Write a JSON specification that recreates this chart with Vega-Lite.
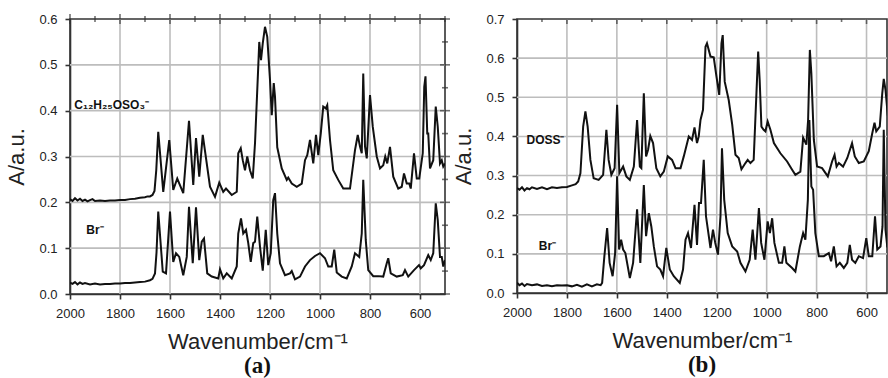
{
  "$schema": "https://vega.github.io/schema/vega-lite/v6.json",
  "padding": {"left": 5, "top": 12, "right": 0, "bottom": 0},
  "spacing": 1,
  "config": {
    "view": {"stroke": "#333", "strokeWidth": 1.6},
    "axis": {"labelFont": "Liberation Sans", "titleFont": "Liberation Sans", "labelFontSize": 13, "titleFontSize": 22, "titleFontWeight": "normal", "labelColor": "#222", "titleColor": "#222", "domain": true, "domainColor": "#333", "domainWidth": 1.6, "ticks": true, "tickColor": "#333", "tickWidth": 1.6, "grid": false, "labelPadding": 8, "tickSize": 5, "labelOverlap": false, "labelFlush": false}
  },
  "datasets": {
    "xt": [{"v":2000},{"v":1900},{"v":1800},{"v":1700},{"v":1600},{"v":1500},{"v":1400},{"v":1300},{"v":1200},{"v":1100},{"v":1000},{"v":900},{"v":800},{"v":700},{"v":600},{"v":500}],
    "gx": [{"v":1800},{"v":1600},{"v":1400},{"v":1200},{"v":1000},{"v":800},{"v":600}],
    "yta": [{"v":0},{"v":0.05},{"v":0.1},{"v":0.15},{"v":0.2},{"v":0.25},{"v":0.3},{"v":0.35},{"v":0.4},{"v":0.45},{"v":0.5},{"v":0.55},{"v":0.6}],
    "ytb": [{"v":0},{"v":0.05},{"v":0.1},{"v":0.15},{"v":0.2},{"v":0.25},{"v":0.3},{"v":0.35},{"v":0.4},{"v":0.45},{"v":0.5},{"v":0.55},{"v":0.6},{"v":0.65},{"v":0.7}],
    "gya": [{"v":0.1},{"v":0.2},{"v":0.3},{"v":0.4},{"v":0.5}],
    "gyb": [{"v":0.1},{"v":0.2},{"v":0.3},{"v":0.4},{"v":0.5},{"v":0.6}],
    "a": [
      {"s":"t","w":2000,"a":0.207},{"s":"t","w":1990,"a":0.203},{"s":"t","w":1980,"a":0.209},{"s":"t","w":1970,"a":0.204},{"s":"t","w":1960,"a":0.208},{"s":"t","w":1950,"a":0.203},{"s":"t","w":1940,"a":0.206},{"s":"t","w":1930,"a":0.202},{"s":"t","w":1920,"a":0.205},{"s":"t","w":1910,"a":0.207},{"s":"t","w":1900,"a":0.203},{"s":"t","w":1880,"a":0.204},{"s":"t","w":1860,"a":0.203},{"s":"t","w":1840,"a":0.204},{"s":"t","w":1820,"a":0.204},{"s":"t","w":1800,"a":0.205},{"s":"t","w":1780,"a":0.205},{"s":"t","w":1760,"a":0.207},{"s":"t","w":1740,"a":0.208},{"s":"t","w":1720,"a":0.21},{"s":"t","w":1700,"a":0.211},{"s":"t","w":1690,"a":0.213},{"s":"t","w":1680,"a":0.213},{"s":"t","w":1670,"a":0.216},{"s":"t","w":1662,"a":0.225},{"s":"t","w":1655,"a":0.27},
      {"s":"t","w":1647,"a":0.354},{"s":"t","w":1627,"a":0.223},{"s":"t","w":1603,"a":0.336},{"s":"t","w":1587,"a":0.227},{"s":"t","w":1571,"a":0.252},{"s":"t","w":1547,"a":0.22},{"s":"t","w":1524,"a":0.378},{"s":"t","w":1507,"a":0.238},{"s":"t","w":1496,"a":0.34},{"s":"t","w":1483,"a":0.256},{"s":"t","w":1469,"a":0.347},{"s":"t","w":1440,"a":0.234},{"s":"t","w":1420,"a":0.212},{"s":"t","w":1403,"a":0.243},{"s":"t","w":1387,"a":0.223},{"s":"t","w":1376,"a":0.23},{"s":"t","w":1353,"a":0.216},{"s":"t","w":1333,"a":0.223},{"s":"t","w":1327,"a":0.307},{"s":"t","w":1317,"a":0.318},{"s":"t","w":1309,"a":0.292},{"s":"t","w":1300,"a":0.27},{"s":"t","w":1291,"a":0.3},{"s":"t","w":1280,"a":0.27},{"s":"t","w":1269,"a":0.252},{"s":"t","w":1260,"a":0.329},{"s":"t","w":1247,"a":0.496},{"s":"t","w":1243,"a":0.55},{"s":"t","w":1236,"a":0.51},{"s":"t","w":1229,"a":0.547},{"s":"t","w":1220,"a":0.583},{"s":"t","w":1211,"a":0.561},{"s":"t","w":1200,"a":0.467},{"s":"t","w":1193,"a":0.39},{"s":"t","w":1185,"a":0.46},{"s":"t","w":1180,"a":0.43},{"s":"t","w":1171,"a":0.32},{"s":"t","w":1153,"a":0.274},{"s":"t","w":1133,"a":0.249},{"s":"t","w":1127,"a":0.254},{"s":"t","w":1113,"a":0.241},{"s":"t","w":1093,"a":0.234},{"s":"t","w":1073,"a":0.241},{"s":"t","w":1060,"a":0.292},{"s":"t","w":1051,"a":0.303},{"s":"t","w":1040,"a":0.336},{"s":"t","w":1027,"a":0.285},{"s":"t","w":1016,"a":0.347},{"s":"t","w":1007,"a":0.303},{"s":"t","w":997,"a":0.35},{"s":"t","w":987,"a":0.409},{"s":"t","w":977,"a":0.405},{"s":"t","w":971,"a":0.412},{"s":"t","w":960,"a":0.336},{"s":"t","w":947,"a":0.27},{"s":"t","w":927,"a":0.249},{"s":"t","w":907,"a":0.23},{"s":"t","w":880,"a":0.23},{"s":"t","w":860,"a":0.314},{"s":"t","w":849,"a":0.347},{"s":"t","w":840,"a":0.322},{"s":"t","w":833,"a":0.307},{"s":"t","w":827,"a":0.481},{"s":"t","w":820,"a":0.322},{"s":"t","w":813,"a":0.296},{"s":"t","w":800,"a":0.434},{"s":"t","w":789,"a":0.365},{"s":"t","w":773,"a":0.3},{"s":"t","w":760,"a":0.274},{"s":"t","w":747,"a":0.281},{"s":"t","w":739,"a":0.3},{"s":"t","w":731,"a":0.285},{"s":"t","w":720,"a":0.321},{"s":"t","w":707,"a":0.256},{"s":"t","w":687,"a":0.23},{"s":"t","w":673,"a":0.234},{"s":"t","w":664,"a":0.263},{"s":"t","w":653,"a":0.241},{"s":"t","w":643,"a":0.241},{"s":"t","w":637,"a":0.23},{"s":"t","w":624,"a":0.307},{"s":"t","w":613,"a":0.252},{"s":"t","w":603,"a":0.252},{"s":"t","w":589,"a":0.307},{"s":"t","w":583,"a":0.452},{"s":"t","w":578,"a":0.475},{"s":"t","w":571,"a":0.35},{"s":"t","w":567,"a":0.35},{"s":"t","w":560,"a":0.274},{"s":"t","w":547,"a":0.292},{"s":"t","w":537,"a":0.409},{"s":"t","w":529,"a":0.365},{"s":"t","w":520,"a":0.285},{"s":"t","w":513,"a":0.292},{"s":"t","w":507,"a":0.278},{"s":"t","w":500,"a":0.285},
      {"s":"b","w":2000,"a":0.025},{"s":"b","w":1990,"a":0.022},{"s":"b","w":1980,"a":0.026},{"s":"b","w":1970,"a":0.021},{"s":"b","w":1960,"a":0.025},{"s":"b","w":1950,"a":0.022},{"s":"b","w":1940,"a":0.024},{"s":"b","w":1920,"a":0.021},{"s":"b","w":1900,"a":0.023},{"s":"b","w":1880,"a":0.021},{"s":"b","w":1860,"a":0.022},{"s":"b","w":1840,"a":0.022},{"s":"b","w":1820,"a":0.023},{"s":"b","w":1800,"a":0.023},{"s":"b","w":1780,"a":0.024},{"s":"b","w":1760,"a":0.024},{"s":"b","w":1740,"a":0.025},{"s":"b","w":1720,"a":0.026},{"s":"b","w":1700,"a":0.027},{"s":"b","w":1680,"a":0.03},{"s":"b","w":1670,"a":0.033},{"s":"b","w":1660,"a":0.045},{"s":"b","w":1654,"a":0.09},
      {"s":"b","w":1647,"a":0.18},{"s":"b","w":1629,"a":0.049},{"s":"b","w":1616,"a":0.045},{"s":"b","w":1600,"a":0.18},{"s":"b","w":1587,"a":0.07},{"s":"b","w":1576,"a":0.089},{"s":"b","w":1563,"a":0.081},{"s":"b","w":1547,"a":0.041},{"s":"b","w":1533,"a":0.081},{"s":"b","w":1524,"a":0.19},{"s":"b","w":1509,"a":0.067},{"s":"b","w":1496,"a":0.189},{"s":"b","w":1483,"a":0.074},{"s":"b","w":1473,"a":0.114},{"s":"b","w":1464,"a":0.121},{"s":"b","w":1451,"a":0.045},{"s":"b","w":1433,"a":0.038},{"s":"b","w":1407,"a":0.034},{"s":"b","w":1400,"a":0.054},{"s":"b","w":1387,"a":0.034},{"s":"b","w":1373,"a":0.045},{"s":"b","w":1353,"a":0.034},{"s":"b","w":1333,"a":0.06},{"s":"b","w":1327,"a":0.132},{"s":"b","w":1316,"a":0.165},{"s":"b","w":1307,"a":0.132},{"s":"b","w":1296,"a":0.14},{"s":"b","w":1287,"a":0.111},{"s":"b","w":1277,"a":0.07},{"s":"b","w":1267,"a":0.111},{"s":"b","w":1260,"a":0.114},{"s":"b","w":1251,"a":0.169},{"s":"b","w":1240,"a":0.103},{"s":"b","w":1229,"a":0.051},{"s":"b","w":1217,"a":0.14},{"s":"b","w":1207,"a":0.063},{"s":"b","w":1197,"a":0.089},{"s":"b","w":1187,"a":0.205},{"s":"b","w":1180,"a":0.22},{"s":"b","w":1171,"a":0.132},{"s":"b","w":1160,"a":0.067},{"s":"b","w":1140,"a":0.041},{"s":"b","w":1120,"a":0.045},{"s":"b","w":1113,"a":0.05},{"s":"b","w":1100,"a":0.032},{"s":"b","w":1080,"a":0.038},{"s":"b","w":1060,"a":0.06},{"s":"b","w":1040,"a":0.074},{"s":"b","w":1020,"a":0.083},{"s":"b","w":1000,"a":0.089},{"s":"b","w":980,"a":0.078},{"s":"b","w":967,"a":0.06},{"s":"b","w":953,"a":0.06},{"s":"b","w":943,"a":0.097},{"s":"b","w":933,"a":0.047},{"s":"b","w":913,"a":0.038},{"s":"b","w":893,"a":0.034},{"s":"b","w":873,"a":0.06},{"s":"b","w":860,"a":0.089},{"s":"b","w":843,"a":0.081},{"s":"b","w":833,"a":0.132},{"s":"b","w":827,"a":0.249},{"s":"b","w":817,"a":0.118},{"s":"b","w":807,"a":0.052},{"s":"b","w":787,"a":0.039},{"s":"b","w":767,"a":0.039},{"s":"b","w":747,"a":0.038},{"s":"b","w":733,"a":0.067},{"s":"b","w":727,"a":0.078},{"s":"b","w":717,"a":0.045},{"s":"b","w":693,"a":0.038},{"s":"b","w":669,"a":0.041},{"s":"b","w":660,"a":0.052},{"s":"b","w":647,"a":0.038},{"s":"b","w":624,"a":0.052},{"s":"b","w":604,"a":0.063},{"s":"b","w":597,"a":0.056},{"s":"b","w":584,"a":0.063},{"s":"b","w":567,"a":0.085},{"s":"b","w":557,"a":0.074},{"s":"b","w":547,"a":0.089},{"s":"b","w":537,"a":0.198},{"s":"b","w":529,"a":0.161},{"s":"b","w":520,"a":0.081},{"s":"b","w":513,"a":0.081},{"s":"b","w":507,"a":0.06},{"s":"b","w":500,"a":0.074}
    ],
    "b": [
      {"s":"t","w":2000,"a":0.268},{"s":"t","w":1990,"a":0.264},{"s":"t","w":1980,"a":0.27},{"s":"t","w":1970,"a":0.262},{"s":"t","w":1960,"a":0.268},{"s":"t","w":1950,"a":0.265},{"s":"t","w":1940,"a":0.27},{"s":"t","w":1920,"a":0.266},{"s":"t","w":1900,"a":0.27},{"s":"t","w":1880,"a":0.265},{"s":"t","w":1860,"a":0.27},{"s":"t","w":1840,"a":0.268},{"s":"t","w":1820,"a":0.27},{"s":"t","w":1800,"a":0.271},{"s":"t","w":1780,"a":0.275},{"s":"t","w":1765,"a":0.278},{"s":"t","w":1755,"a":0.285},
      {"s":"t","w":1746,"a":0.306},{"s":"t","w":1735,"a":0.425},{"s":"t","w":1726,"a":0.464},{"s":"t","w":1717,"a":0.425},{"s":"t","w":1706,"a":0.34},{"s":"t","w":1693,"a":0.293},{"s":"t","w":1673,"a":0.289},{"s":"t","w":1655,"a":0.302},{"s":"t","w":1642,"a":0.417},{"s":"t","w":1633,"a":0.34},{"s":"t","w":1622,"a":0.302},{"s":"t","w":1609,"a":0.319},{"s":"t","w":1599,"a":0.481},{"s":"t","w":1590,"a":0.306},{"s":"t","w":1575,"a":0.323},{"s":"t","w":1562,"a":0.298},{"s":"t","w":1548,"a":0.289},{"s":"t","w":1532,"a":0.323},{"s":"t","w":1519,"a":0.442},{"s":"t","w":1508,"a":0.323},{"s":"t","w":1502,"a":0.319},{"s":"t","w":1492,"a":0.51},{"s":"t","w":1483,"a":0.349},{"s":"t","w":1475,"a":0.366},{"s":"t","w":1466,"a":0.401},{"s":"t","w":1455,"a":0.383},{"s":"t","w":1442,"a":0.319},{"s":"t","w":1426,"a":0.298},{"s":"t","w":1412,"a":0.31},{"s":"t","w":1396,"a":0.349},{"s":"t","w":1379,"a":0.34},{"s":"t","w":1365,"a":0.319},{"s":"t","w":1345,"a":0.319},{"s":"t","w":1332,"a":0.349},{"s":"t","w":1312,"a":0.4},{"s":"t","w":1299,"a":0.391},{"s":"t","w":1289,"a":0.423},{"s":"t","w":1279,"a":0.383},{"s":"t","w":1272,"a":0.4},{"s":"t","w":1265,"a":0.442},{"s":"t","w":1255,"a":0.468},{"s":"t","w":1245,"a":0.629},{"s":"t","w":1239,"a":0.638},{"s":"t","w":1225,"a":0.604},{"s":"t","w":1212,"a":0.602},{"s":"t","w":1201,"a":0.553},{"s":"t","w":1190,"a":0.506},{"s":"t","w":1181,"a":0.638},{"s":"t","w":1176,"a":0.659},{"s":"t","w":1168,"a":0.54},{"s":"t","w":1152,"a":0.493},{"s":"t","w":1138,"a":0.43},{"s":"t","w":1125,"a":0.353},{"s":"t","w":1112,"a":0.345},{"s":"t","w":1101,"a":0.316},{"s":"t","w":1085,"a":0.332},{"s":"t","w":1076,"a":0.34},{"s":"t","w":1065,"a":0.332},{"s":"t","w":1052,"a":0.34},{"s":"t","w":1041,"a":0.51},{"s":"t","w":1034,"a":0.617},{"s":"t","w":1028,"a":0.544},{"s":"t","w":1021,"a":0.425},{"s":"t","w":1012,"a":0.417},{"s":"t","w":1005,"a":0.413},{"s":"t","w":996,"a":0.438},{"s":"t","w":985,"a":0.417},{"s":"t","w":971,"a":0.383},{"s":"t","w":945,"a":0.357},{"s":"t","w":918,"a":0.336},{"s":"t","w":898,"a":0.315},{"s":"t","w":885,"a":0.302},{"s":"t","w":865,"a":0.31},{"s":"t","w":854,"a":0.397},{"s":"t","w":841,"a":0.379},{"s":"t","w":834,"a":0.442},{"s":"t","w":827,"a":0.621},{"s":"t","w":821,"a":0.561},{"s":"t","w":811,"a":0.391},{"s":"t","w":798,"a":0.323},{"s":"t","w":778,"a":0.319},{"s":"t","w":755,"a":0.298},{"s":"t","w":738,"a":0.336},{"s":"t","w":728,"a":0.353},{"s":"t","w":720,"a":0.323},{"s":"t","w":711,"a":0.332},{"s":"t","w":694,"a":0.323},{"s":"t","w":677,"a":0.345},{"s":"t","w":658,"a":0.383},{"s":"t","w":647,"a":0.349},{"s":"t","w":631,"a":0.332},{"s":"t","w":611,"a":0.336},{"s":"t","w":591,"a":0.362},{"s":"t","w":577,"a":0.408},{"s":"t","w":568,"a":0.435},{"s":"t","w":561,"a":0.413},{"s":"t","w":547,"a":0.425},{"s":"t","w":537,"a":0.51},{"s":"t","w":531,"a":0.547},{"s":"t","w":524,"a":0.519},{"s":"t","w":515,"a":0.455},{"s":"t","w":505,"a":0.42},
      {"s":"b","w":2000,"a":0.026},{"s":"b","w":1990,"a":0.02},{"s":"b","w":1980,"a":0.024},{"s":"b","w":1970,"a":0.018},{"s":"b","w":1960,"a":0.023},{"s":"b","w":1940,"a":0.02},{"s":"b","w":1920,"a":0.022},{"s":"b","w":1900,"a":0.018},{"s":"b","w":1880,"a":0.02},{"s":"b","w":1860,"a":0.017},{"s":"b","w":1840,"a":0.02},{"s":"b","w":1820,"a":0.019},{"s":"b","w":1800,"a":0.02},{"s":"b","w":1780,"a":0.017},{"s":"b","w":1760,"a":0.021},{"s":"b","w":1740,"a":0.016},{"s":"b","w":1720,"a":0.022},{"s":"b","w":1700,"a":0.017},{"s":"b","w":1680,"a":0.022},{"s":"b","w":1665,"a":0.02},{"s":"b","w":1659,"a":0.026},
      {"s":"b","w":1650,"a":0.094},{"s":"b","w":1639,"a":0.166},{"s":"b","w":1629,"a":0.077},{"s":"b","w":1617,"a":0.043},{"s":"b","w":1607,"a":0.102},{"s":"b","w":1599,"a":0.298},{"s":"b","w":1591,"a":0.111},{"s":"b","w":1583,"a":0.136},{"s":"b","w":1575,"a":0.111},{"s":"b","w":1566,"a":0.102},{"s":"b","w":1548,"a":0.038},{"s":"b","w":1535,"a":0.077},{"s":"b","w":1519,"a":0.214},{"s":"b","w":1506,"a":0.077},{"s":"b","w":1492,"a":0.276},{"s":"b","w":1483,"a":0.145},{"s":"b","w":1472,"a":0.204},{"s":"b","w":1462,"a":0.17},{"s":"b","w":1452,"a":0.119},{"s":"b","w":1439,"a":0.068},{"s":"b","w":1426,"a":0.06},{"s":"b","w":1415,"a":0.043},{"s":"b","w":1402,"a":0.115},{"s":"b","w":1388,"a":0.06},{"s":"b","w":1372,"a":0.043},{"s":"b","w":1348,"a":0.026},{"s":"b","w":1335,"a":0.06},{"s":"b","w":1325,"a":0.136},{"s":"b","w":1315,"a":0.153},{"s":"b","w":1303,"a":0.115},{"s":"b","w":1289,"a":0.225},{"s":"b","w":1279,"a":0.123},{"s":"b","w":1271,"a":0.23},{"s":"b","w":1263,"a":0.23},{"s":"b","w":1252,"a":0.34},{"s":"b","w":1243,"a":0.196},{"s":"b","w":1225,"a":0.115},{"s":"b","w":1215,"a":0.162},{"s":"b","w":1206,"a":0.128},{"s":"b","w":1195,"a":0.098},{"s":"b","w":1185,"a":0.196},{"s":"b","w":1179,"a":0.37},{"s":"b","w":1170,"a":0.238},{"s":"b","w":1156,"a":0.153},{"s":"b","w":1138,"a":0.119},{"s":"b","w":1118,"a":0.106},{"s":"b","w":1105,"a":0.077},{"s":"b","w":1085,"a":0.055},{"s":"b","w":1068,"a":0.085},{"s":"b","w":1056,"a":0.162},{"s":"b","w":1045,"a":0.085},{"s":"b","w":1031,"a":0.217},{"s":"b","w":1022,"a":0.128},{"s":"b","w":1009,"a":0.085},{"s":"b","w":996,"a":0.183},{"s":"b","w":987,"a":0.153},{"s":"b","w":978,"a":0.191},{"s":"b","w":969,"a":0.128},{"s":"b","w":951,"a":0.077},{"s":"b","w":938,"a":0.077},{"s":"b","w":929,"a":0.119},{"s":"b","w":921,"a":0.077},{"s":"b","w":898,"a":0.064},{"s":"b","w":885,"a":0.055},{"s":"b","w":867,"a":0.119},{"s":"b","w":854,"a":0.153},{"s":"b","w":845,"a":0.136},{"s":"b","w":835,"a":0.238},{"s":"b","w":829,"a":0.442},{"s":"b","w":821,"a":0.272},{"s":"b","w":814,"a":0.264},{"s":"b","w":805,"a":0.153},{"s":"b","w":791,"a":0.094},{"s":"b","w":771,"a":0.094},{"s":"b","w":751,"a":0.102},{"s":"b","w":742,"a":0.081},{"s":"b","w":731,"a":0.119},{"s":"b","w":720,"a":0.068},{"s":"b","w":707,"a":0.077},{"s":"b","w":691,"a":0.064},{"s":"b","w":677,"a":0.077},{"s":"b","w":667,"a":0.123},{"s":"b","w":658,"a":0.085},{"s":"b","w":645,"a":0.077},{"s":"b","w":631,"a":0.094},{"s":"b","w":614,"a":0.089},{"s":"b","w":601,"a":0.14},{"s":"b","w":591,"a":0.094},{"s":"b","w":577,"a":0.094},{"s":"b","w":566,"a":0.196},{"s":"b","w":557,"a":0.111},{"s":"b","w":544,"a":0.119},{"s":"b","w":536,"a":0.17},{"s":"b","w":531,"a":0.417},{"s":"b","w":524,"a":0.162},{"s":"b","w":517,"a":0.119},{"s":"b","w":505,"a":0.12}
    ],
    "la": [{"w":1983,"a":0.412,"t":"C₁₂H₂₅OSO₃⁻"},{"w":1935,"a":0.14,"t":"Br⁻"}],
    "lb": [{"w":1962,"a":0.391,"t":"DOSS⁻"},{"w":1913,"a":0.119,"t":"Br⁻"}]
  },
  "hconcat": [
    {
      "width": 375, "height": 275,
      "title": {"text": "(a)", "orient": "bottom", "font": "Liberation Serif", "fontSize": 23, "fontWeight": "bold", "color": "#111", "offset": 3},
      "layer": [
        {"data": {"name": "gx"}, "mark": {"type": "rule", "color": "#bdbdbd", "strokeWidth": 1.6}, "encoding": {"x": {"field": "v", "type": "quantitative"}}},
        {"data": {"name": "gya"}, "mark": {"type": "rule", "color": "#bdbdbd", "strokeWidth": 1.6}, "encoding": {"y": {"field": "v", "type": "quantitative"}}},
        {
          "data": {"name": "a"},
          "mark": {"type": "line", "strokeWidth": 2, "color": "#111", "clip": true},
          "encoding": {
            "x": {"field": "w", "type": "quantitative", "scale": {"domain": [2000, 500], "nice": false, "zero": false},
              "axis": {"title": "Wavenumber/cm⁻¹", "values": [2000,1800,1600,1400,1200,1000,800,600], "format": "d", "titlePadding": 11}},
            "y": {"field": "a", "type": "quantitative", "scale": {"domain": [0, 0.6], "nice": false},
              "axis": {"title": "A/a.u.", "values": [0,0.1,0.2,0.3,0.4,0.5,0.6], "tickCount": 7, "format": ".1f", "titlePadding": 10}},
            "detail": {"field": "s"}
          }
        },
        {"data": {"name": "xt"}, "mark": {"type": "tick", "orient": "vertical", "color": "#333", "thickness": 1.6}, "encoding": {"x": {"field": "v", "type": "quantitative"}, "y": {"datum": 0.6}, "size": {"condition": {"test": "datum.v % 200 === 0", "value": 10}, "value": 6}}},
        {"data": {"name": "yta"}, "mark": {"type": "tick", "orient": "horizontal", "color": "#333", "thickness": 1.6}, "encoding": {"y": {"field": "v", "type": "quantitative"}, "x": {"datum": 500}, "size": {"condition": {"test": "round(datum.v*100) % 10 === 0", "value": 10}, "value": 6}}},
        {"mark": {"type": "rect", "fill": null, "fillOpacity": 0, "stroke": "#333", "strokeWidth": 1.6}, "encoding": {"x": {"datum": 2000}, "x2": {"datum": 500}, "y": {"datum": 0}, "y2": {"datum": 0.6}}},
        {
          "data": {"name": "la"},
          "mark": {"type": "text", "align": "left", "baseline": "middle", "font": "Liberation Sans", "fontWeight": "bold", "fontSize": 12, "color": "#111"},
          "encoding": {"x": {"field": "w", "type": "quantitative"}, "y": {"field": "a", "type": "quantitative"}, "text": {"field": "t"}}
        }
      ]
    },
    {
      "width": 370, "height": 274,
      "title": {"text": "(b)", "orient": "bottom", "font": "Liberation Serif", "fontSize": 23, "fontWeight": "bold", "color": "#111", "offset": 3},
      "layer": [
        {"data": {"name": "gx"}, "mark": {"type": "rule", "color": "#bdbdbd", "strokeWidth": 1.6}, "encoding": {"x": {"field": "v", "type": "quantitative"}}},
        {"data": {"name": "gyb"}, "mark": {"type": "rule", "color": "#bdbdbd", "strokeWidth": 1.6}, "encoding": {"y": {"field": "v", "type": "quantitative"}}},
        {
          "data": {"name": "b"},
          "mark": {"type": "line", "strokeWidth": 2, "color": "#111", "clip": true},
          "encoding": {
            "x": {"field": "w", "type": "quantitative", "scale": {"domain": [2000, 518], "nice": false, "zero": false},
              "axis": {"title": "Wavenumber/cm⁻¹", "values": [2000,1800,1600,1400,1200,1000,800,600], "format": "d", "titlePadding": 11}},
            "y": {"field": "a", "type": "quantitative", "scale": {"domain": [0, 0.7], "nice": false},
              "axis": {"title": "A/a.u.", "values": [0,0.1,0.2,0.3,0.4,0.5,0.6,0.7], "tickCount": 8, "format": ".1f", "titlePadding": 10}},
            "detail": {"field": "s"}
          }
        },
        {"data": {"name": "xt"}, "mark": {"type": "tick", "orient": "vertical", "color": "#333", "thickness": 1.6, "clip": true}, "encoding": {"x": {"field": "v", "type": "quantitative"}, "y": {"datum": 0.7}, "size": {"condition": {"test": "datum.v % 200 === 0", "value": 10}, "value": 6}}},
        {"mark": {"type": "rect", "fill": null, "fillOpacity": 0, "stroke": "#333", "strokeWidth": 1.6}, "encoding": {"x": {"datum": 2000}, "x2": {"datum": 518}, "y": {"datum": 0}, "y2": {"datum": 0.7}}},
        {
          "data": {"name": "lb"},
          "mark": {"type": "text", "align": "left", "baseline": "middle", "font": "Liberation Sans", "fontWeight": "bold", "fontSize": 12, "color": "#111"},
          "encoding": {"x": {"field": "w", "type": "quantitative"}, "y": {"field": "a", "type": "quantitative"}, "text": {"field": "t"}}
        }
      ]
    }
  ]
}
